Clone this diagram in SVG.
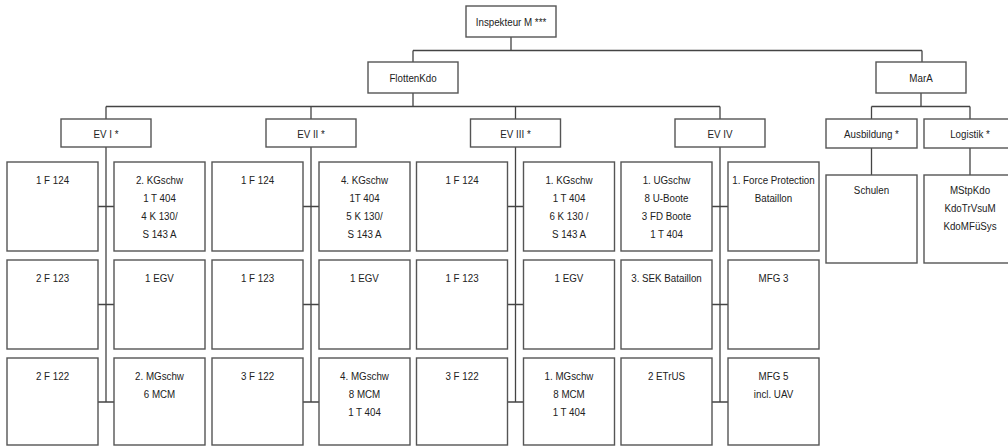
<svg xmlns="http://www.w3.org/2000/svg" width="1008" height="446" viewBox="0 0 1008 446">
<style>
.b{fill:#fff;stroke:#555;stroke-width:1.4}
.c{fill:none;stroke:#444;stroke-width:1.3}
text{font-family:"Liberation Sans",Arial,sans-serif;font-size:11.5px;fill:#222;text-anchor:middle}
</style>
<rect width="1008" height="446" fill="#fff"/>
<g id="connectors" class="c">
<path d="M511 37V50.5M413 50.5H922M413 50.5V62M922 50.5V62"/>
<path d="M413 93V106.5M106 106.5H720M106 106.5V119M311 106.5V119M515.5 106.5V119M720 106.5V119"/>
<path d="M921 93V106.5M871.5 106.5H970M871.5 106.5V119M970 106.5V119M871.5 148V175M970 148V175"/>
<path d="M106 147V402M98 206.5H114M98 304.5H114M98 402H114"/>
<path d="M311 147V402M303 206.5H319M303 304.5H319M303 402H319"/>
<path d="M515.5 147V402M507.5 206.5H523.5M507.5 304.5H523.5M507.5 402H523.5"/>
<path d="M720 147V402M712 206.5H728M712 304.5H728M712 402H728"/>
</g>
<g id="inspekteur"><rect class="b" x="466" y="6" width="90" height="31"/><text transform="translate(511,26) scale(0.85,1)">Inspekteur M ***</text></g>
<g id="flottenkdo"><rect class="b" x="368" y="62" width="90" height="31"/><text transform="translate(413,82) scale(0.85,1)">FlottenKdo</text></g>
<g id="mara"><rect class="b" x="876" y="62" width="90" height="31"/><text transform="translate(921,82) scale(0.85,1)">MarA</text></g>
<g id="ausbildung"><rect class="b" x="826" y="119" width="91" height="29"/><text transform="translate(871.5,137.5) scale(0.85,1)">Ausbildung *</text></g>
<g id="logistik"><rect class="b" x="924" y="119" width="92" height="29"/><text transform="translate(970,137.5) scale(0.85,1)">Logistik *</text></g>
<g id="schulen"><rect class="b" x="826" y="175" width="91" height="88"/><text transform="translate(871.5,194) scale(0.85,1)">Schulen</text></g>
<g id="logistik-units"><rect class="b" x="924" y="175" width="92" height="88"/><text transform="translate(970,194) scale(0.85,1)">MStpKdo</text><text transform="translate(970,212) scale(0.85,1)">KdoTrVsuM</text><text transform="translate(970,230) scale(0.85,1)">KdoMFüSys</text></g>

<g id="ev1"><rect class="b" x="61" y="119" width="90" height="28"/><text transform="translate(106,138) scale(0.85,1)">EV I *</text></g>
<g id="ev1-r1l"><rect class="b" x="7" y="162" width="91" height="89"/><text transform="translate(52.5,184) scale(0.85,1)">1 F 124</text></g>
<g id="ev1-r1r"><rect class="b" x="114" y="162" width="91" height="89"/><text transform="translate(159.5,184) scale(0.85,1)">2. KGschw</text><text transform="translate(159.5,202) scale(0.85,1)">1 T 404</text><text transform="translate(159.5,220) scale(0.85,1)">4 K 130/</text><text transform="translate(159.5,238) scale(0.85,1)">S 143 A</text></g>
<g id="ev1-r2l"><rect class="b" x="7" y="260" width="91" height="89"/><text transform="translate(52.5,282) scale(0.85,1)">2 F 123</text></g>
<g id="ev1-r2r"><rect class="b" x="114" y="260" width="91" height="89"/><text transform="translate(159.5,282) scale(0.85,1)">1 EGV</text></g>
<g id="ev1-r3l"><rect class="b" x="7" y="358" width="91" height="87"/><text transform="translate(52.5,380) scale(0.85,1)">2 F 122</text></g>
<g id="ev1-r3r"><rect class="b" x="114" y="358" width="91" height="87"/><text transform="translate(159.5,380) scale(0.85,1)">2. MGschw</text><text transform="translate(159.5,398) scale(0.85,1)">6 MCM</text></g>

<g id="ev2"><rect class="b" x="266" y="119" width="90" height="28"/><text transform="translate(311,138) scale(0.85,1)">EV II *</text></g>
<g id="ev2-r1l"><rect class="b" x="212" y="162" width="91" height="89"/><text transform="translate(257.5,184) scale(0.85,1)">1 F 124</text></g>
<g id="ev2-r1r"><rect class="b" x="319" y="162" width="91" height="89"/><text transform="translate(364.5,184) scale(0.85,1)">4. KGschw</text><text transform="translate(364.5,202) scale(0.85,1)">1T 404</text><text transform="translate(364.5,220) scale(0.85,1)">5 K 130/</text><text transform="translate(364.5,238) scale(0.85,1)">S 143 A</text></g>
<g id="ev2-r2l"><rect class="b" x="212" y="260" width="91" height="89"/><text transform="translate(257.5,282) scale(0.85,1)">1 F 123</text></g>
<g id="ev2-r2r"><rect class="b" x="319" y="260" width="91" height="89"/><text transform="translate(364.5,282) scale(0.85,1)">1 EGV</text></g>
<g id="ev2-r3l"><rect class="b" x="212" y="358" width="91" height="87"/><text transform="translate(257.5,380) scale(0.85,1)">3 F 122</text></g>
<g id="ev2-r3r"><rect class="b" x="319" y="358" width="91" height="87"/><text transform="translate(364.5,380) scale(0.85,1)">4. MGschw</text><text transform="translate(364.5,398) scale(0.85,1)">8 MCM</text><text transform="translate(364.5,416) scale(0.85,1)">1 T 404</text></g>

<g id="ev3"><rect class="b" x="470.5" y="119" width="90" height="28"/><text transform="translate(515.5,138) scale(0.85,1)">EV III *</text></g>
<g id="ev3-r1l"><rect class="b" x="416.5" y="162" width="91" height="89"/><text transform="translate(462,184) scale(0.85,1)">1 F 124</text></g>
<g id="ev3-r1r"><rect class="b" x="523.5" y="162" width="91" height="89"/><text transform="translate(569,184) scale(0.85,1)">1. KGschw</text><text transform="translate(569,202) scale(0.85,1)">1 T 404</text><text transform="translate(569,220) scale(0.85,1)">6 K 130 /</text><text transform="translate(569,238) scale(0.85,1)">S 143 A</text></g>
<g id="ev3-r2l"><rect class="b" x="416.5" y="260" width="91" height="89"/><text transform="translate(462,282) scale(0.85,1)">1 F 123</text></g>
<g id="ev3-r2r"><rect class="b" x="523.5" y="260" width="91" height="89"/><text transform="translate(569,282) scale(0.85,1)">1 EGV</text></g>
<g id="ev3-r3l"><rect class="b" x="416.5" y="358" width="91" height="87"/><text transform="translate(462,380) scale(0.85,1)">3 F 122</text></g>
<g id="ev3-r3r"><rect class="b" x="523.5" y="358" width="91" height="87"/><text transform="translate(569,380) scale(0.85,1)">1. MGschw</text><text transform="translate(569,398) scale(0.85,1)">8 MCM</text><text transform="translate(569,416) scale(0.85,1)">1 T 404</text></g>

<g id="ev4"><rect class="b" x="675" y="119" width="90" height="28"/><text transform="translate(720,138) scale(0.85,1)">EV IV</text></g>
<g id="ev4-r1l"><rect class="b" x="621" y="162" width="91" height="89"/><text transform="translate(666.5,184) scale(0.85,1)">1. UGschw</text><text transform="translate(666.5,202) scale(0.85,1)">8 U-Boote</text><text transform="translate(666.5,220) scale(0.85,1)">3 FD Boote</text><text transform="translate(666.5,238) scale(0.85,1)">1 T 404</text></g>
<g id="ev4-r1r"><rect class="b" x="728" y="162" width="91" height="89"/><text transform="translate(773.5,184) scale(0.85,1)">1. Force Protection</text><text transform="translate(773.5,202) scale(0.85,1)">Bataillon</text></g>
<g id="ev4-r2l"><rect class="b" x="621" y="260" width="91" height="89"/><text transform="translate(666.5,282) scale(0.85,1)">3. SEK Bataillon</text></g>
<g id="ev4-r2r"><rect class="b" x="728" y="260" width="91" height="89"/><text transform="translate(773.5,282) scale(0.85,1)">MFG 3</text></g>
<g id="ev4-r3l"><rect class="b" x="621" y="358" width="91" height="87"/><text transform="translate(666.5,380) scale(0.85,1)">2 ETrUS</text></g>
<g id="ev4-r3r"><rect class="b" x="728" y="358" width="91" height="87"/><text transform="translate(773.5,380) scale(0.85,1)">MFG 5</text><text transform="translate(773.5,398) scale(0.85,1)">incl. UAV</text></g>
</svg>
